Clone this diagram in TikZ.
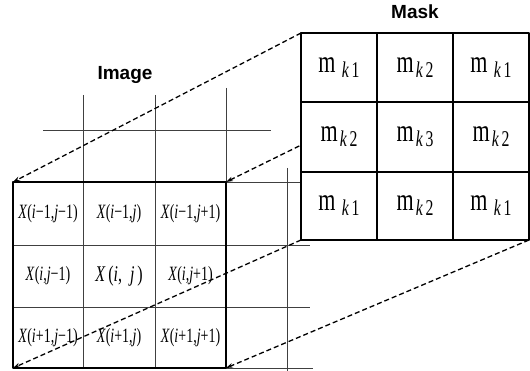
\documentclass[tikz,border=0pt]{standalone}
\usepackage{fontspec}
\setmainfont{Liberation Serif}
\newfontfamily\titlefont{Liberation Sans}
\usetikzlibrary{arrows.meta}

% pixel label X(i..,j..), stretched a little as in the figure
\newcommand{\pix}[2]{\scalebox{1}[1.45]{\textit{X}(\textit{i}#1,\textit{j}#2)}}
% mask weight m_k.
\newcommand{\mval}[2]{\scalebox{1.05}[1.5]{m\hspace{#1}\raisebox{-3.5pt}{\fontsize{15}{15}\selectfont\textit{k}\,#2}}}

\begin{document}
\begin{tikzpicture}[x=1pt, y=-1pt, >={Stealth[length=7pt,width=4.5pt]}, line join=round,
	gridline/.style={black!75, line width=0.8pt},
	frameline/.style={line width=1.6pt},
	link/.style={->, dash pattern=on 5pt off 3pt, line width=1.3pt},
	celltext/.style={inner sep=0pt, font=\fontsize{14}{14}\selectfont},
	masktext/.style={inner sep=0pt, font=\fontsize{21}{21}\selectfont},
	title/.style={inner sep=0pt, font=\titlefont\bfseries\fontsize{19}{19}\selectfont}]
	\useasboundingbox (0, 0) rectangle (530, 371);
	% surrounding image grid
	\foreach \x/\y in {83/95, 155/95, 226/88} \draw[gridline] (\x, \y) -- (\x, 182);
	\draw[gridline] (43, 130) -- (271, 130);
	\draw[gridline] (287, 168) -- (287, 371);
	\foreach \y/\e in {182/301, 245/310, 307/310, 368/313} \draw[gridline] (226, \y) -- (\e, \y);
	% 3x3 window
	\foreach \x in {83, 155} \draw[gridline] (\x, 182) -- (\x, 368);
	\foreach \y in {245, 307} \draw[gridline] (13, \y) -- (226, \y);
	\node[frameline, draw, minimum width=213pt, minimum height=186pt, inner sep=0pt, outer sep=0pt] (img) at (119.5, 275) {};
	\node[title] (imgtitle) at (125, 75) {Image};
	\node[celltext] (x11) at (48, 214) {\pix{−1}{−1}};
	\node[celltext] (x12) at (119, 214) {\pix{−1}{}};
	\node[celltext] (x13) at (190.5, 214) {\pix{−1}{+1}};
	\node[celltext] (x21) at (48, 276) {\pix{}{−1}};
	\node[celltext, font=\fontsize{16}{16}\selectfont] (x22) at (119, 276) {\scalebox{1}[1.4]{\textit{X}\,(\textit{i},\ \ \textit{j}\,)}};
	\node[celltext] (x23) at (190.5, 276) {\pix{}{+1}};
	\node[celltext] (x31) at (48, 337.5) {\pix{+1}{−1}};
	\node[celltext] (x32) at (119, 337.5) {\pix{+1}{}};
	\node[celltext] (x33) at (190.5, 337.5) {\pix{+1}{+1}};
	% mask and projection lines
	\node[minimum width=228pt, minimum height=207pt, inner sep=0pt, outer sep=0pt] (mask) at (415, 136.5) {};
	\draw[link] (mask.north west) -- (img.north west);
	\draw[link] (mask.north east) -- (img.north east);
	\draw[link] (mask.south west) -- (img.south west);
	\draw[link] (mask.south east) -- (img.south east);
	\draw[line width=1.4pt, fill=white] (mask.north west) rectangle (mask.south east);
	\foreach \x in {377, 453} \draw[line width=1.1pt] (\x, 33) -- (\x, 240);
	\foreach \y in {102, 172} \draw[line width=1.1pt] (301, \y) -- (529, \y);
	\node[title] (masktitle) at (415, 12) {Mask};
	\foreach \r/\c/\g/\d in {1/1/6/1, 1/2/2/2, 1/3/6/1, 2/1/2/2, 2/2/2/3, 2/3/2/2, 3/1/6/1, 3/2/2/2, 3/3/6/1}
		\node[masktext] (m\r\c) at ({76*\c+263}, {69*\r-1.5}) {\mval{\g pt}{\d}};
\end{tikzpicture}
\end{document}
